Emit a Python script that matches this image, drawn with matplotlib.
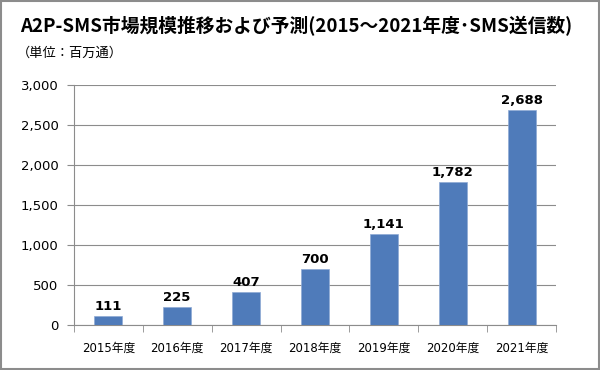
import matplotlib
matplotlib.use('Agg')
import matplotlib.pyplot as plt
from matplotlib.patches import Rectangle
import numpy as np

plt.rcParams['font.family'] = ['DejaVu Sans', 'Noto Sans CJK JP']

years = ['2015年度', '2016年度', '2017年度', '2018年度', '2019年度', '2020年度', '2021年度']
values = [111, 225, 407, 700, 1141, 1782, 2688]
yticks = [0, 500, 1000, 1500, 2000, 2500, 3000]

fig = plt.figure(figsize=(6, 3.7), dpi=100)
fig.patches.append(Rectangle((0.002, 0.003), 0.996, 0.994, transform=fig.transFigure,
                             fill=False, edgecolor='#8c8c8c', linewidth=1.5))

fig.text(0.033, 0.93, 'A2P-SMS市場規模推移および予測(2015～2021年度･SMS送信数)',
         fontsize=13.5, fontweight='bold', family=['Noto Sans CJK JP', 'DejaVu Sans'],
         va='center', ha='left')
fig.text(0.028, 0.857, '（単位：百万通）', fontsize=9.5, family=['Noto Sans CJK JP', 'DejaVu Sans'],
         va='center', ha='left')

ax = fig.add_axes([0.123, 0.1216, 0.804, 0.6486])
x = np.arange(len(years))
ax.bar(x, values, width=0.4, color='#4F7BBA', edgecolor='#8faad4', linewidth=0.5, zorder=3)
for xi, v in zip(x, values):
    ax.text(xi, v + 40, f'{v:,}', ha='center', va='bottom', fontsize=9.5, fontweight='bold')

ax.set_xlim(-0.5, len(years) - 0.5)
ax.set_ylim(0, 3000)
ax.set_yticks(yticks)
ax.set_yticklabels([f'{t:,}' for t in yticks], fontsize=9.5)
ax.yaxis.grid(True, color='#8c8c8c', linewidth=0.8, zorder=0)
ax.set_xticks(x)
ax.set_xticklabels(years, fontsize=8.5)
ax.set_xticks(np.arange(len(years) + 1) - 0.5, minor=True)
ax.tick_params(axis='x', which='major', length=0, pad=12)
ax.tick_params(axis='x', which='minor', length=5, color='#8c8c8c')
ax.tick_params(axis='y', length=5, color='#8c8c8c', pad=6)
for s in ['top', 'right']:
    ax.spines[s].set_visible(False)
for s in ['left', 'bottom']:
    ax.spines[s].set_color('#8c8c8c')

plt.savefig('out.png', dpi=100)
